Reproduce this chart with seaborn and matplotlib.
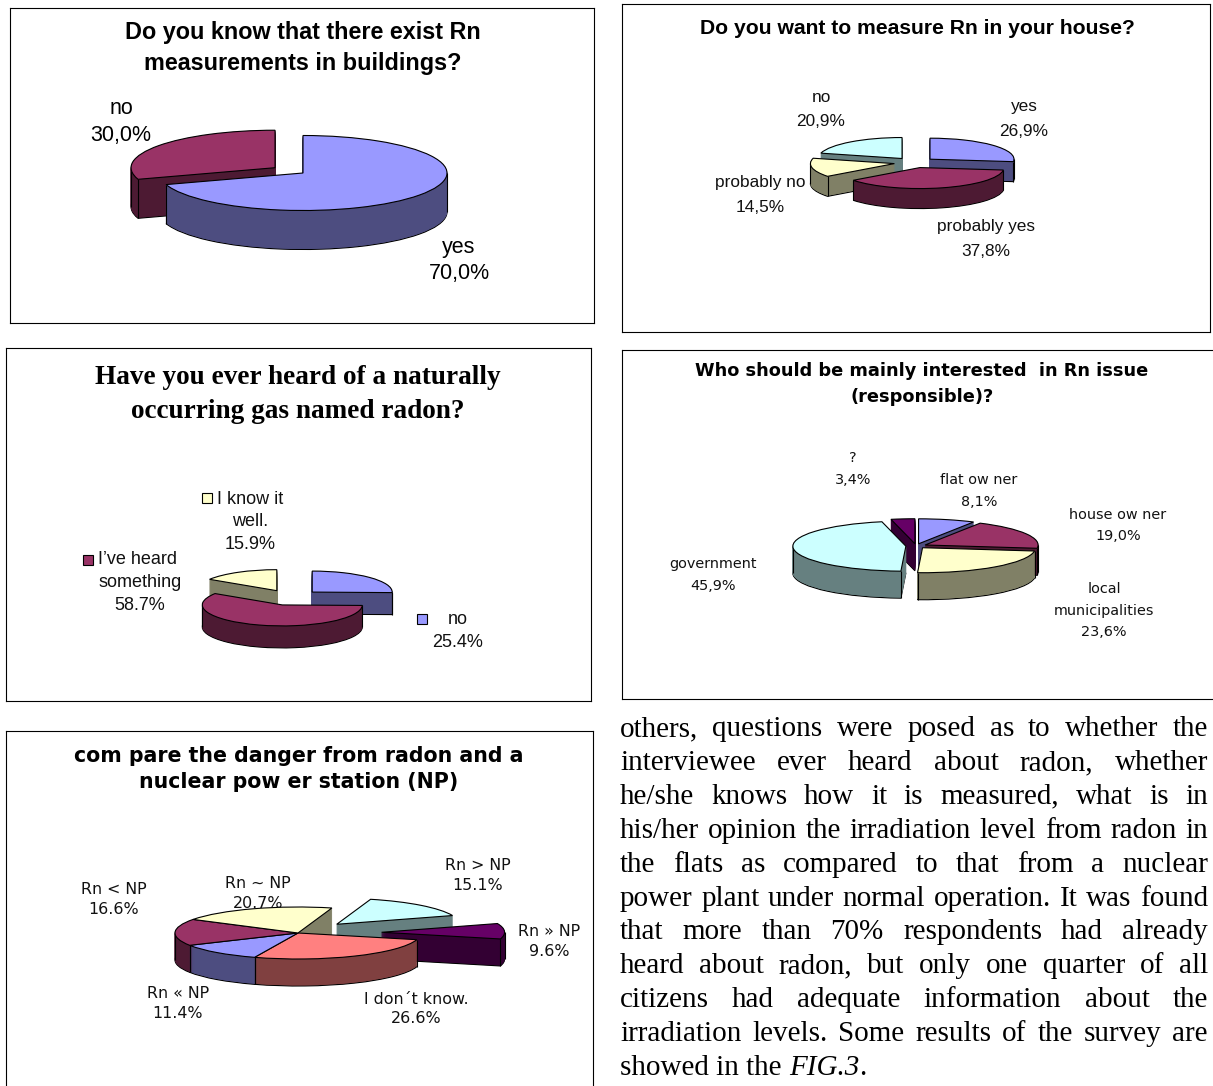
import numpy as np
import matplotlib
matplotlib.use("Agg")
import matplotlib.pyplot as plt
from matplotlib.colors import to_rgb
import seaborn as sns

sns.set_theme(style="white")
plt.rcParams['font.family'] = ['Liberation Sans', 'DejaVu Sans']

W, H = 1213, 1086

# ---------------- data ----------------
know_labels = ["yes", "no"]
know_values = [70.0, 30.0]

measure_labels = ["yes", "probably yes", "probably no", "no"]
measure_values = [26.9, 37.8, 14.5, 20.9]

heard_labels = ["no", "I\u2019ve heard\nsomething", "I know it\nwell."]
heard_values = [25.4, 58.7, 15.9]

who_labels = ["flat ow ner", "house ow ner", "local\nmunicipalities", "government", "?"]
who_values = [8.1, 19.0, 23.6, 45.9, 3.4]

danger_labels = ["Rn > NP", "Rn \u00bb NP", "I don\u00b4t know.", "Rn \u00ab NP", "Rn < NP", "Rn ~ NP"]
danger_values = [15.1, 9.6, 26.6, 11.4, 16.6, 20.7]

BLUE, MAROON, CREAM, CYAN, PURPLE, SALMON = "#9999FF", "#993366", "#FFFFCC", "#CCFFFF", "#660066", "#FF8080"

para_lines = [
    "others, questions were posed as to whether the",
    "interviewee ever heard about radon, whether",
    "he/she knows how it is measured, what is in",
    "his/her opinion the irradiation level from radon in",
    "the flats as compared to that from a nuclear",
    "power plant under normal operation. It was found",
    "that more than 70% respondents had already",
    "heard about radon, but only one quarter of all",
    "citizens had adequate information about the",
    "irradiation levels.  Some results of the survey are",
]

fig = plt.figure(figsize=(W / 100, H / 100), dpi=100)
fig.patch.set_facecolor("white")


def fx(x):
    return x / W


def fy(y):
    return 1 - y / H


def darker(c):
    r, g, b = to_rgb(c)
    return (r * 0.5, g * 0.5, b * 0.5)


def pie3d(box, values, colors, cx, cy, rx, ry, depth, explode, start=90):
    x0, y0, x1, y1 = box
    k = ry / rx
    ax = fig.add_axes([fx(x0), (H - y1) / H, (x1 - x0) / W, (y1 - y0) / H])

    def Y(y):
        return (H - y) / k

    expl = [e * rx for e in explode]
    dark = [darker(c) for c in colors]
    # side walls: stacked copies of the pie, shifted downwards
    for j in range(depth, 0, -1):
        wedges, _ = ax.pie(values, colors=dark, center=(cx, Y(cy + j)), radius=rx,
                           explode=expl, startangle=start, counterclock=False,
                           wedgeprops=dict(zorder=1))
        for w in wedges:
            if j == depth:
                w.set_edgecolor("black")
                w.set_linewidth(0.8)
            else:
                w.set_edgecolor(w.get_facecolor())
                w.set_linewidth(0.6)
    # top faces
    wedges, _ = ax.pie(values, colors=colors, center=(cx, Y(cy)), radius=rx,
                       explode=expl, startangle=start, counterclock=False,
                       wedgeprops=dict(edgecolor="black", linewidth=0.8, zorder=2))
    # vertical edges of the visible walls
    xs, ys = [], []
    for w in wedges:
        a1, a2 = w.theta1, w.theta2
        cands = [a1, a2] + [a for a in (-180, 0, 180, 360) if a1 < a < a2]
        for a in cands:
            if np.sin(np.radians(a)) <= 0.02:
                xs.append(w.center[0] + w.r * np.cos(np.radians(a)))
                ys.append(w.center[1] + w.r * np.sin(np.radians(a)))
    ys = np.array(ys)
    ax.vlines(xs, ys - depth / k, ys, colors="black", linewidth=0.8, zorder=1.5)

    ax.set_aspect("auto")
    ax.set_frame_on(True)
    ax.set_xlim(x0, x1)
    ax.set_ylim(Y(y1), Y(y0))
    ax.set_xticks([])
    ax.set_yticks([])
    for s in ax.spines.values():
        s.set_visible(True)
        s.set_color("black")
        s.set_linewidth(0.8)
    return ax


def lines_text(x, y, text, step, **kw):
    for i, line in enumerate(text.split("\n")):
        fig.text(fx(x), fy(y + i * step), line, ha="center", va="center", **kw)


def pct(v, comma=True):
    s = f"{v:.1f}%"
    return s.replace(".", ",") if comma else s


# ---------------- chart 1 ----------------
pie3d((10, 8, 594, 323), know_values, [BLUE, MAROON], 303, 173, 144, 37.5, 39, [0, 0.24])
lines_text(303, 33, "Do you know that there exist Rn\nmeasurements in buildings?", 30.5,
           fontsize=16.8, fontweight="bold", color="black")
know_pos = [(459, 247), (121, 108)]
for lab, v, (x, y) in zip(know_labels, know_values, know_pos):
    lines_text(x, y, f"{lab}\n{pct(v)}", 27, fontsize=15.5, color="black")

# ---------------- chart 2 ----------------
pie3d((622, 4, 1210, 332), measure_values, [BLUE, MAROON, CREAM, CYAN], 914.6, 162.6, 84, 21, 20,
      [0.245] * 4)
lines_text(917, 28, "Do you want to measure Rn in your house?", 24, fontsize=15.2, fontweight="bold",
           color="black")
measure_pos = [(1024, 107), (986, 227), (760, 183), (821, 98)]
for lab, v, (x, y) in zip(measure_labels, measure_values, measure_pos):
    lines_text(x, y, f"{lab}\n{pct(v)}", 24, fontsize=12.4, color="#111111")

# ---------------- chart 3 ----------------
pie3d((6, 348, 591, 701), heard_values, [BLUE, MAROON, CREAM], 291, 597.5, 80, 21, 22, [0.37] * 3)
lines_text(298, 377, "Have you ever heard of a naturally\noccurring gas named radon?", 34,
           fontsize=19.6, fontweight="bold", family="Liberation Serif", color="black")
heard_sq = [(422, 619), (88, 560), (207, 498)]
heard_txt = [(458, 620, 458), (140, 560, 140), (250, 499, 250)]
for lab, v, c, (sx, sy), (tx, ty, px) in zip(heard_labels, heard_values, [BLUE, MAROON, CREAM],
                                          heard_sq, heard_txt):
    fig.patches.append(plt.Rectangle((fx(sx - 5), fy(sy + 5)), 10 / W, 10 / H, facecolor=c,
                                     edgecolor="black", linewidth=0.8,
                                     transform=fig.transFigure, figure=fig))
    parts = lab.split("\n") + [pct(v, comma=False)]
    for i, line in enumerate(parts):
        if i == 0 and len(parts) > 2:
            fig.text(fx(sx + 10), fy(ty), line, ha="left", va="center", fontsize=13, color="#111111")
        else:
            fig.text(fx(px), fy(ty + i * 22.5), line, ha="center", va="center", fontsize=13,
                     color="#111111")

# ---------------- chart 4 ----------------
pie3d((622, 350, 1225, 699), who_values, [BLUE, MAROON, CREAM, CYAN, PURPLE], 916, 546, 113, 25,
      27, [0.09] * 5)
lines_text(922, 371, "Who should be mainly interested  in Rn issue\n(responsible)?", 26,
           fontsize=12.8, fontweight="bold", family="DejaVu Sans", color="black")
who_pos = [(979, 480), (1118, 515), (1104, 589), (713, 564), (853, 458)]
for lab, v, (x, y) in zip(who_labels, who_values, who_pos):
    lines_text(x, y, f"{lab}\n{pct(v)}", 21.5, fontsize=10.4, family="DejaVu Sans", color="#111111")

# ---------------- chart 5 ----------------
pie3d((6, 731, 593, 1100), danger_values, [CYAN, PURPLE, SALMON, BLUE, MAROON, CREAM], 298, 933,
      123, 26, 27, [0.46, 0.68, 0, 0, 0, 0], start=74)
lines_text(299, 756, "com pare the danger from radon and a\nnuclear pow er station (NP)", 26,
           fontsize=14.8, fontweight="bold", family="DejaVu Sans", color="black")
danger_pos = [(478, 866), (549, 932), (416, 999), (178, 994), (114, 890), (258, 884)]
for lab, v, (x, y) in zip(danger_labels, danger_values, danger_pos):
    lines_text(x, y, f"{lab}\n{pct(v, comma=False)}", 19.5, fontsize=11.4, family="DejaVu Sans",
               color="#111111")

# ---------------- paragraph text ----------------
renderer = fig.canvas.get_renderer()
left, right, size = 620, 1208, 21
for i, line in enumerate(para_lines):
    base = 736 + i * 33.9
    words = line.split()
    texts = [fig.text(0, fy(base), w, fontsize=size, family="Liberation Serif", va="baseline",
                      color="black") for w in words]
    widths = [t.get_window_extent(renderer).width for t in texts]
    gap = (right - left - sum(widths)) / (len(words) - 1)
    x = left
    for t, wd in zip(texts, widths):
        t.set_x(fx(x))
        x += wd + gap

base = 736 + len(para_lines) * 33.9
last = [("showed in the ", "normal"), ("FIG.3", "italic"), (".", "normal")]
x = left
for s, st in last:
    t = fig.text(fx(x), fy(base), s, fontsize=size, family="Liberation Serif", style=st,
                 va="baseline", color="black")
    x += t.get_window_extent(renderer).width

fig.savefig("out.png", dpi=100)
